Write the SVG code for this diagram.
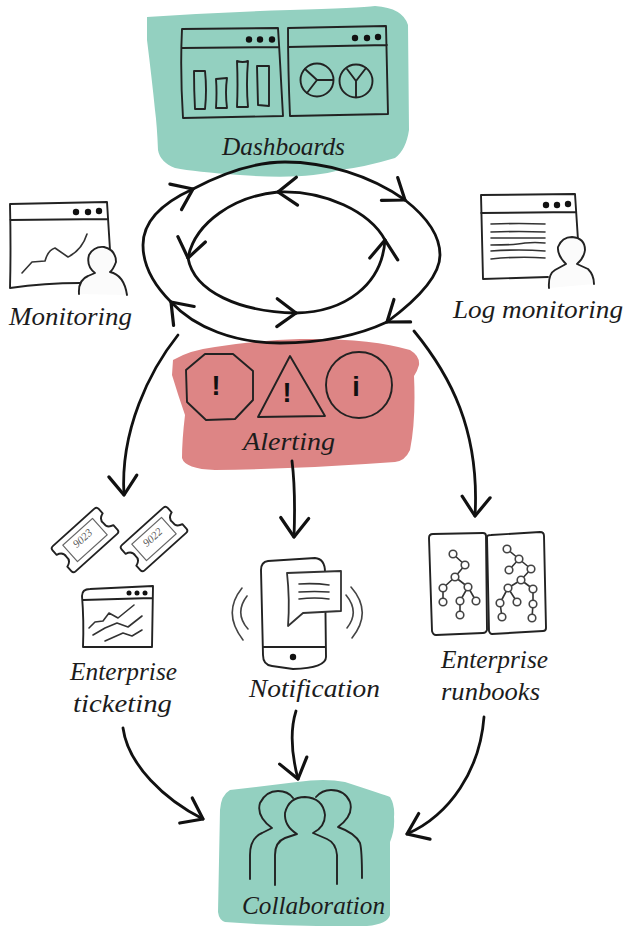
<svg xmlns="http://www.w3.org/2000/svg" width="626" height="926" viewBox="0 0 626 926">
<style>
.ink{fill:none;stroke:#222;stroke-width:1.900;stroke-linecap:round;stroke-linejoin:round}
.thin{fill:none;stroke:#333;stroke-width:1.600;stroke-linecap:round;stroke-linejoin:round}
.gray{fill:none;stroke:#666;stroke-width:1.200;stroke-linecap:round;stroke-linejoin:round}
.wave{fill:none;stroke:#444;stroke-width:1.600;stroke-linecap:round}
.dot{fill:#111}
.conn{fill:none;stroke:#111;stroke-width:2.800;stroke-linecap:round;stroke-linejoin:round;marker-end:url(#head)}
.lbl{font-family:"Liberation Serif",serif;font-style:italic;font-size:25px;fill:#1c1c1c}
.bang{font-family:"Liberation Sans",sans-serif;font-weight:bold;font-size:27px;fill:#111;text-anchor:middle}
.num{font-family:"Liberation Serif",serif;font-style:italic;font-size:11px;fill:#555;text-anchor:middle}
.person{fill:#fbfbfb;stroke:none}
.node{fill:#fff;stroke:#444;stroke-width:1.600}
</style>
<defs>
<marker id="head" markerUnits="userSpaceOnUse" markerWidth="50" markerHeight="50" refX="25" refY="25" orient="auto" overflow="visible">
<path d="M6,11 L25,25 L6,39" fill="none" stroke="#111" stroke-width="3.200" stroke-linecap="round" stroke-linejoin="round"/>
</marker>
<g id="ticket">
<path class="ink" d="M-28,-17H28Q31,-17 31,-14V-8Q24,-6 25,0Q24,6 31,8V14Q31,17 28,17H-28Q-31,17 -31,14V8Q-24,6 -25,0Q-24,-6 -31,-8V-14Q-31,-17 -28,-17Z"/>
<rect class="gray" x="-20" y="-11" width="40" height="22"/>
</g>
</defs>

<g id="dashboards">
<path fill="#93d0c0" d="M147,17Q220,12 290,10T375,6Q403,8 408,25L409,130Q406,150 395,158Q365,167 340,170Q305,180 240,175Q195,172 175,168Q160,162 158,150Q157,125 155,110Q152,80 147,40Z"/>
<path class="ink" d="M182,29L278,28Q280,60 281,80L283,116L183,118Q180,70 182,29ZM182,48L279,47"/>
<circle class="dot" cx="249" cy="39.500" r="3.200"/><circle class="dot" cx="260" cy="39.500" r="3.200"/><circle class="dot" cx="272" cy="39.500" r="3.200"/>
<path class="ink" d="M194,71L205,71Q207,90 205,109L195,109Q194,90 194,71ZM216,79L227,78Q225,92 227,108L216,108Q217,92 216,79ZM237,61Q243,63 248,61Q246,85 248,107L237,107Q238,85 237,61ZM257,66L269,66L269,106L258,105Z"/>
<path class="ink" d="M288,28L386,26L388,114L290,116Q288,70 288,28ZM288,47L387,45"/>
<circle class="dot" cx="355" cy="38" r="3.200"/><circle class="dot" cx="367" cy="38" r="3.200"/><circle class="dot" cx="378" cy="37" r="3.200"/>
<circle class="ink" cx="317" cy="80" r="16.500"/><path class="ink" d="M317,80L333,80M317,80L305,69M317,80L307,93"/>
<circle class="ink" cx="356" cy="81" r="16.500"/><path class="ink" d="M356,81L347,69M356,81L366,68M356,81L356,97"/>
<text class="lbl" x="222" y="155" textLength="123" lengthAdjust="spacingAndGlyphs">Dashboards</text>
</g>

<g id="monitoring">
<path class="ink" d="M10,204L107,202L110,250M10,204Q11,250 10,288Q45,283 80,283M10,220L108,219"/>
<circle class="dot" cx="76" cy="212" r="3.200"/><circle class="dot" cx="88" cy="212" r="3.200"/><circle class="dot" cx="99" cy="211" r="3.200"/>
<path class="thin" d="M22,273L32,262L45,261Q48,250 55,248L68,257Q82,250 87,234"/>
<path class="person" d="M79,294Q78,280 88,276L95,273Q86,266 89,255Q94,246 104,247Q116,250 116,262Q113,270 110,272Q124,275 127,295Z"/>
<path class="ink" d="M79,294Q78,280 88,276L95,273Q86,266 89,255Q94,246 104,247Q116,250 116,262Q113,270 110,272Q124,275 127,295"/>
<text class="lbl" x="9" y="325" textLength="123" lengthAdjust="spacingAndGlyphs">Monitoring</text>
</g>

<g id="log-monitoring">
<path class="ink" d="M481,195L575,194L578,240M481,195L483,279L548,277M481,213L576,212"/>
<circle class="dot" cx="546" cy="205" r="3.200"/><circle class="dot" cx="557" cy="205" r="3.200"/><circle class="dot" cx="568" cy="204" r="3.200"/>
<path class="thin" d="M491,224Q520,223 545,224M491,232Q520,231 545,232M491,238L545,238M491,245Q515,245 525,243Q535,242 545,243M491,251Q520,249 545,251M491,259Q520,256 545,258"/>
<path class="person" d="M549,288Q548,274 555,270L566,264Q557,255 558,247Q562,237 572,237Q585,238 585,250Q584,258 577,264L588,269Q594,275 594,284Z"/>
<path class="ink" d="M549,288Q548,274 555,270L566,264Q557,255 558,247Q562,237 572,237Q585,238 585,250Q584,258 577,264L588,269Q594,275 594,284"/>
<text class="lbl" x="453" y="318" textLength="170" lengthAdjust="spacingAndGlyphs">Log monitoring</text>
</g>

<g id="alerting">
<path fill="#dd8585" d="M173,360Q190,350 215,347Q260,340 300,339Q370,338 410,350Q420,356 419,365Q417,372 414,376Q416,420 410,450Q405,461 395,462Q300,469 215,470Q185,469 182,458Q182,440 185,415Q178,395 172,375Z"/>
<path class="ink" d="M205,354L233,354L253,371L253,400L235,419L206,420L187,402L186,370Z"/>
<path class="ink" d="M290,356L325,416L258,417Z"/>
<circle class="ink" cx="359" cy="385" r="33"/>
<text class="bang" x="216" y="395">!</text>
<text class="bang" x="287" y="402">!</text>
<text class="bang" x="356" y="396">i</text>
<text class="lbl" x="243" y="450" textLength="92" lengthAdjust="spacingAndGlyphs">Alerting</text>
</g>

<g id="enterprise-ticketing">
<use href="#ticket" transform="translate(85,540) rotate(-42)"/>
<use href="#ticket" transform="translate(154,539) rotate(-42)"/>
<text class="num" transform="translate(85,541) rotate(-42)">9023</text>
<text class="num" transform="translate(155,540) rotate(-42)">9022</text>
<path class="ink" d="M82,596Q82,589 90,589L153,586L152,647L83,647Q84,620 82,596ZM83,600L152,598"/>
<circle class="dot" cx="129" cy="593" r="2.500"/><circle class="dot" cx="137" cy="593" r="2.500"/><circle class="dot" cx="145" cy="593" r="2.500"/>
<path class="thin" d="M89,628L95,622L103,621L109,613L118,618L134,605M93,635L105,628L117,623L128,627L142,616M105,641L123,633L132,636L142,630"/>
<text class="lbl" x="70" y="680" textLength="107" lengthAdjust="spacingAndGlyphs">Enterprise</text>
<text class="lbl" x="73" y="712" textLength="99" lengthAdjust="spacingAndGlyphs">ticketing</text>
</g>

<g id="notification">
<path class="ink" d="M325,572Q325,559 315,558L268,561Q261,562 261,570L263,655Q263,665 272,666L293,669Q326,668 326,657L325,572ZM263,647L325,647"/>
<circle class="dot" cx="293" cy="657" r="3.200"/>
<path fill="#fff" stroke="#333" stroke-width="1.800" stroke-linejoin="round" d="M287,573L341,571L341,611L303,613L288,626Q290,600 287,573Z"/>
<path class="thin" d="M299,584Q315,583 329,585M299,592Q315,591 329,592M299,599Q315,597 329,599"/>
<path class="wave" d="M242,588Q222,613 243,640M247,596Q234,613 248,629M351,587Q373,612 352,638M346,595Q360,612 347,628"/>
<text class="lbl" x="249" y="697" textLength="131" lengthAdjust="spacingAndGlyphs">Notification</text>
</g>

<g id="enterprise-runbooks">
<path class="ink" d="M429,538Q429,534 433,534L483,533Q486,533 486,536L487,630Q486,633 483,633L436,635Q433,635 432,631Z"/>
<path class="ink" d="M487,537Q487,535 491,535L540,532Q544,532 544,536L546,628Q546,631 543,631L492,634Q490,634 489,631Z"/>
<path class="thin" d="M453,554L465,565L455,577L443,588L443,602M455,577L468,587L460,601L460,615M468,587L476,601"/>
<path class="thin" d="M507,549L519,559L509,570M519,559L531,569L521,580L508,588L500,603L502,617M508,588L517,602M521,580L533,589L533,604L532,618"/>
<circle class="node" cx="453" cy="554" r="3.800"/><circle class="node" cx="465" cy="565" r="3.800"/><circle class="node" cx="455" cy="577" r="3.800"/><circle class="node" cx="443" cy="588" r="3.800"/><circle class="node" cx="468" cy="587" r="3.800"/><circle class="node" cx="443" cy="602" r="3.800"/><circle class="node" cx="460" cy="601" r="3.800"/><circle class="node" cx="476" cy="601" r="3.800"/><circle class="node" cx="460" cy="615" r="3.800"/>
<circle class="node" cx="507" cy="549" r="3.800"/><circle class="node" cx="519" cy="559" r="3.800"/><circle class="node" cx="509" cy="570" r="3.800"/><circle class="node" cx="531" cy="569" r="3.800"/><circle class="node" cx="521" cy="580" r="3.800"/><circle class="node" cx="508" cy="588" r="3.800"/><circle class="node" cx="533" cy="589" r="3.800"/><circle class="node" cx="500" cy="603" r="3.800"/><circle class="node" cx="517" cy="602" r="3.800"/><circle class="node" cx="533" cy="604" r="3.800"/><circle class="node" cx="502" cy="617" r="3.800"/><circle class="node" cx="532" cy="618" r="3.800"/>
<text class="lbl" x="441" y="668" textLength="107" lengthAdjust="spacingAndGlyphs">Enterprise</text>
<text class="lbl" x="441" y="700" textLength="99" lengthAdjust="spacingAndGlyphs">runbooks</text>
</g>

<g id="collaboration">
<path fill="#93d0c0" d="M230,790L297,782Q325,778 345,782Q385,795 390,797Q395,805 394,817Q395,830 390,842L390,915Q388,924 367,926Q290,927 225,922Q219,920 218,912L220,810Q221,795 230,790Z"/>
<path class="ink" d="M250,879V855Q250,838 262,833L272,828Q256,816 260,803Q266,791 278,791Q288,791 293,798M362,878Q362,850 360,843Q355,833 338,827Q354,815 350,802Q345,790 331,790Q322,790 316,797"/>
<path class="ink" d="M275,885V855Q275,842 285,838L297,834Q284,826 285,813Q289,797 305,797Q323,798 325,815Q325,827 313,833L327,839Q336,843 337,855L337,884"/>
<text class="lbl" x="242" y="914" textLength="143" lengthAdjust="spacingAndGlyphs">Collaboration</text>
</g>

<g id="connectors">
<path class="conn" d="M171,302C152,283 143,264 143,245C143,222 160,204 193,189"/>
<path class="conn" d="M193,189C225,172 255,162 285,162C325,162 370,175 405,200"/>
<path class="conn" d="M405,200C428,218 440,236 440,255C440,278 414,302 387,322"/>
<path class="conn" d="M387,322C355,337 315,343 280,343C235,343 195,328 171,302"/>
<path class="conn" d="M278,192C235,196 195,222 188,258"/>
<path class="conn" d="M188,258C194,292 240,312 296,313"/>
<path class="conn" d="M296,313C345,312 382,285 385,240"/>
<path class="conn" d="M385,240C370,212 325,190 278,192"/>
<path class="conn" d="M178,335C150,370 120,430 124,495"/>
<path class="conn" d="M414,331C450,375 480,430 475,516"/>
<path class="conn" d="M292,461C295,485 295,510 294,537"/>
<path class="conn" d="M123,728C128,765 165,800 203,819"/>
<path class="conn" d="M296,711C290,730 291,752 298,779"/>
<path class="conn" d="M484,717C480,770 450,815 407,834"/>
</g>
</svg>
